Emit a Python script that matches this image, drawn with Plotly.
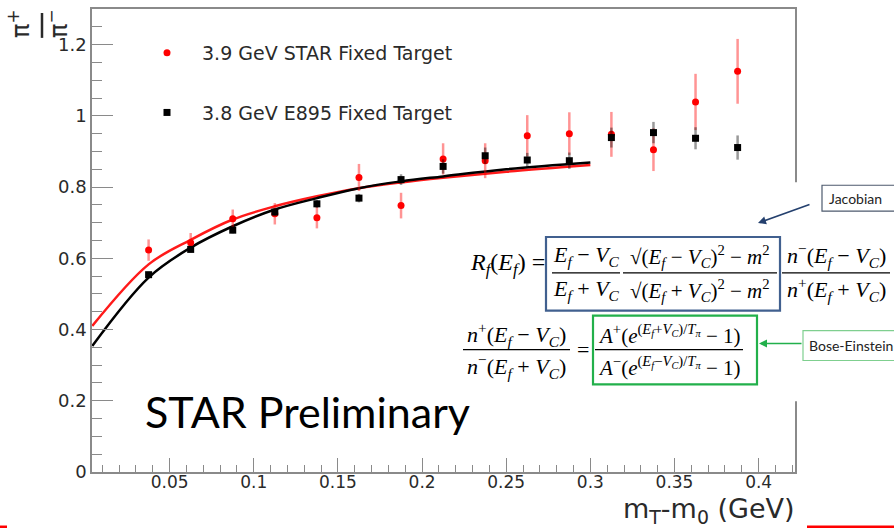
import plotly.graph_objects as go

# ---------------- data ----------------
x_bins = [0.0375, 0.0625, 0.0875, 0.1125, 0.1375, 0.1625, 0.1875, 0.2125,
          0.2375, 0.2625, 0.2875, 0.3125, 0.3375, 0.3625, 0.3875]

star_ratio = [0.623, 0.644, 0.711, 0.725, 0.714, 0.827, 0.748, 0.879,
              0.874, 0.944, 0.950, 0.948, 0.905, 1.039, 1.125]
star_err = [0.030, 0.027, 0.026, 0.030, 0.030, 0.038, 0.036, 0.044,
            0.049, 0.058, 0.060, 0.063, 0.060, 0.079, 0.091]

e895_ratio = [0.554, 0.625, 0.679, 0.730, 0.753, 0.769, 0.821, 0.858,
              0.888, 0.876, 0.874, 0.939, 0.953, 0.937, 0.911]
e895_err = [0.008, 0.008, 0.009, 0.010, 0.011, 0.012, 0.015, 0.020,
            0.023, 0.020, 0.023, 0.028, 0.030, 0.031, 0.034]

fit_x = [0.004, 0.0375, 0.0625, 0.0875, 0.1125, 0.1375, 0.1625, 0.1875,
         0.2125, 0.25, 0.30]
fit_star = [0.410, 0.583, 0.652, 0.709, 0.746, 0.774, 0.797, 0.813,
            0.826, 0.843, 0.862]
fit_e895 = [0.354, 0.546, 0.630, 0.690, 0.737, 0.769, 0.797, 0.816,
            0.830, 0.850, 0.869]

x_tick_vals = [0.05, 0.1, 0.15, 0.2, 0.25, 0.3, 0.35, 0.4]
x_tick_text = ["0.05", "0.1", "0.15", "0.2", "0.25", "0.3", "0.35", "0.4"]
y_tick_vals = [0, 0.2, 0.4, 0.6, 0.8, 1.0, 1.2]
y_tick_text = ["0", "0.2", "0.4", "0.6", "0.8", "1", "1.2"]

# ---------------- geometry ----------------
W, H = 894, 529
L, R, T, B = 92, 795, 7, 472


def PX(px):
    return (px - L) / (R - L)


def PY(py):
    return (B - py) / (B - T)


AX_COL = "#8a8a8a"
TXT_COL = "#2a2a2a"

fig = go.Figure()

fig.add_trace(go.Scatter(x=fit_x, y=fit_star, mode="lines", line=dict(color="#ff1a1a", width=2.5, shape="spline"),
                         showlegend=False, hoverinfo="skip"))
fig.add_trace(go.Scatter(x=fit_x, y=fit_e895, mode="lines", line=dict(color="black", width=2.5, shape="spline"),
                         showlegend=False, hoverinfo="skip"))

fig.add_trace(go.Scatter(
    x=x_bins, y=star_ratio, mode="markers", name="3.9 GeV STAR Fixed Target",
    legendgroup="a",
    marker=dict(color="red", size=7, symbol="circle"),
    error_y=dict(type="data", array=star_err, color="rgba(255,0,0,0.42)", thickness=2.5, width=0)))
fig.add_trace(go.Scatter(
    x=x_bins, y=e895_ratio, mode="markers", name="3.8 GeV E895 Fixed Target",
    legendgroup="b",
    marker=dict(color="black", size=7, symbol="square"),
    error_y=dict(type="data", array=e895_err, color="rgba(0,0,0,0.40)", thickness=2.5, width=0)))

fig.update_layout(
    width=W, height=H,
    margin=dict(l=L, r=W - R, t=T, b=H - B, pad=0),
    paper_bgcolor="white", plot_bgcolor="white",
    showlegend=True,
    legend=dict(x=PX(132), y=PY(32), xanchor="left", yanchor="top",
                bgcolor="rgba(0,0,0,0)", font=dict(family="DejaVu Sans", size=19, color=TXT_COL),
                traceorder="grouped", tracegroupgap=32, itemwidth=60),
    xaxis=dict(range=[0.00386, 0.4216], showgrid=False, zeroline=False,
               showline=True, linecolor=AX_COL, linewidth=1.5, mirror=True,
               ticks="inside", ticklen=14, tickwidth=1.3, tickcolor=AX_COL,
               tickvals=x_tick_vals, ticktext=x_tick_text, ticklabelstandoff=-6,
               tickfont=dict(family="DejaVu Sans", size=17, color=TXT_COL),
               minor=dict(dtick=0.01, tick0=0, ticks="inside", ticklen=7, tickcolor=AX_COL, tickwidth=1.3)),
    yaxis=dict(range=[0, 1.3], showgrid=False, zeroline=False,
               showline=True, linecolor=AX_COL, linewidth=1.5, mirror=True,
               ticks="inside", ticklen=21, tickwidth=1.3, tickcolor=AX_COL,
               tickvals=y_tick_vals, ticktext=y_tick_text,
               tickfont=dict(family="DejaVu Sans", size=18, color=TXT_COL),
               minor=dict(dtick=0.05, tick0=0, ticks="inside", ticklen=10, tickcolor=AX_COL, tickwidth=1.3)),
)

shapes = []
annots = []


def line(x0, y0, x1, y1, color="black", width=1.2):
    shapes.append(dict(type="line", xref="paper", yref="paper", x0=PX(x0), y0=PY(y0), x1=PX(x1), y1=PY(y1),
                       line=dict(color=color, width=width), layer="above"))


def rect(x0, y0, x1, y1, color, width=2, fill="rgba(0,0,0,0)"):
    shapes.append(dict(type="rect", xref="paper", yref="paper", x0=PX(x0), y0=PY(y0), x1=PX(x1), y1=PY(y1),
                       line=dict(color=color, width=width), fillcolor=fill, layer="above"))


def text(px, py, s, size=22, family="Liberation Serif", color="black", xanchor="center", angle=0):
    annots.append(dict(xref="paper", yref="paper", x=PX(px), y=PY(py), text=s, showarrow=False,
                       xanchor=xanchor, yanchor="middle", textangle=angle,
                       font=dict(family=family, size=size, color=color)))


def arrow(hx, hy, tx, ty, color):
    annots.append(dict(xref="paper", yref="paper", x=PX(hx), y=PY(hy), ax=tx - hx, ay=ty - hy,
                       axref="pixel", ayref="pixel", text="", showarrow=True, arrowhead=2, arrowsize=1,
                       arrowwidth=1.6, arrowcolor=color))


# overlay (pasted equation picture) background
shapes.append(dict(type="rect", xref="paper", yref="paper", x0=PX(540), y0=PY(181), x1=PX(900), y1=PY(401),
                   line=dict(width=0), fillcolor="white", layer="above"))

# y-axis title: rotated fraction pi+/pi-
text(19, 22, "π<sup>+</sup>", size=24, family="DejaVu Sans", color=TXT_COL, angle=-90)
text(57, 22, "π<sup>−</sup>", size=24, family="DejaVu Sans", color=TXT_COL, angle=-90)
line(42, 11, 42, 36, color=TXT_COL, width=2.5)

# x-axis title
text(797, 511, "m<sub>T</sub>-m<sub>0</sub> (GeV)", size=27, family="DejaVu Sans", color=TXT_COL, xanchor="right")

# STAR Preliminary
text(143, 411, "STAR Preliminary", size=43, family="Lato", color="black", xanchor="left")

# equations
Ef = "<i>E<sub>f</sub></i>"
Vc = "<i>V<sub>C</sub></i>"
text(547, 263, "<i>R<sub>f</sub></i>(" + Ef + ") =", size=24, xanchor="right")
text(586, 255, Ef + " − " + Vc)
text(586, 289, Ef + " + " + Vc)
line(552, 272, 620, 272)
text(700, 256, "√(" + Ef + " − " + Vc + ")<sup>2</sup> − <i>m</i><sup>2</sup>", size=21)
text(700, 290, "√(" + Ef + " + " + Vc + ")<sup>2</sup> − <i>m</i><sup>2</sup>", size=21)
line(623, 272, 777, 272)
text(836, 255, "<i>n</i><sup>−</sup>(" + Ef + " − " + Vc + ")")
text(836, 289, "<i>n</i><sup>+</sup>(" + Ef + " + " + Vc + ")")
line(782, 272, 890, 272)
rect(546, 236, 780, 310, "#41608f", width=2.2)

text(516, 334, "<i>n</i><sup>+</sup>(" + Ef + " − " + Vc + ")")
text(516, 366, "<i>n</i><sup>−</sup>(" + Ef + " + " + Vc + ")")
line(463, 349, 570, 349)
text(583, 349, "=")
text(669, 334, "<i>A</i><sup>+</sup>(<i>e</i><sup>(<i>E<sub>f</sub></i>+<i>V<sub>C</sub></i>)/<i>T<sub>π</sub></i></sup> − 1)", size=21)
text(669, 366, "<i>A</i><sup>−</sup>(<i>e</i><sup>(<i>E<sub>f</sub></i>−<i>V<sub>C</sub></i>)/<i>T<sub>π</sub></i></sup> − 1)", size=21)
line(595, 349, 743, 349)
rect(593, 315, 757, 384, "#22b04b", width=2.2)

# Jacobian callout
rect(822, 184, 905, 210, "#4d5a6e", width=1.2)
text(827, 197, "Jacobian", size=14, family="Lato", color="#222", xanchor="left")
arrow(758, 222, 811, 203, "#24406e")

# Bose-Einstein callout
rect(803, 330, 905, 360, "#7fcf8f", width=1.2)
text(807, 345, "Bose-Einstein", size=14, family="Lato", color="#222", xanchor="left")
arrow(759, 343, 803, 343, "#22b04b")

# slide decoration lines
line(0, 527, 7, 527, color="red", width=2.5)
line(807, 527, 894, 527, color="red", width=2.5)

fig.update_layout(shapes=shapes, annotations=annots)
fig.write_html("out.html")
